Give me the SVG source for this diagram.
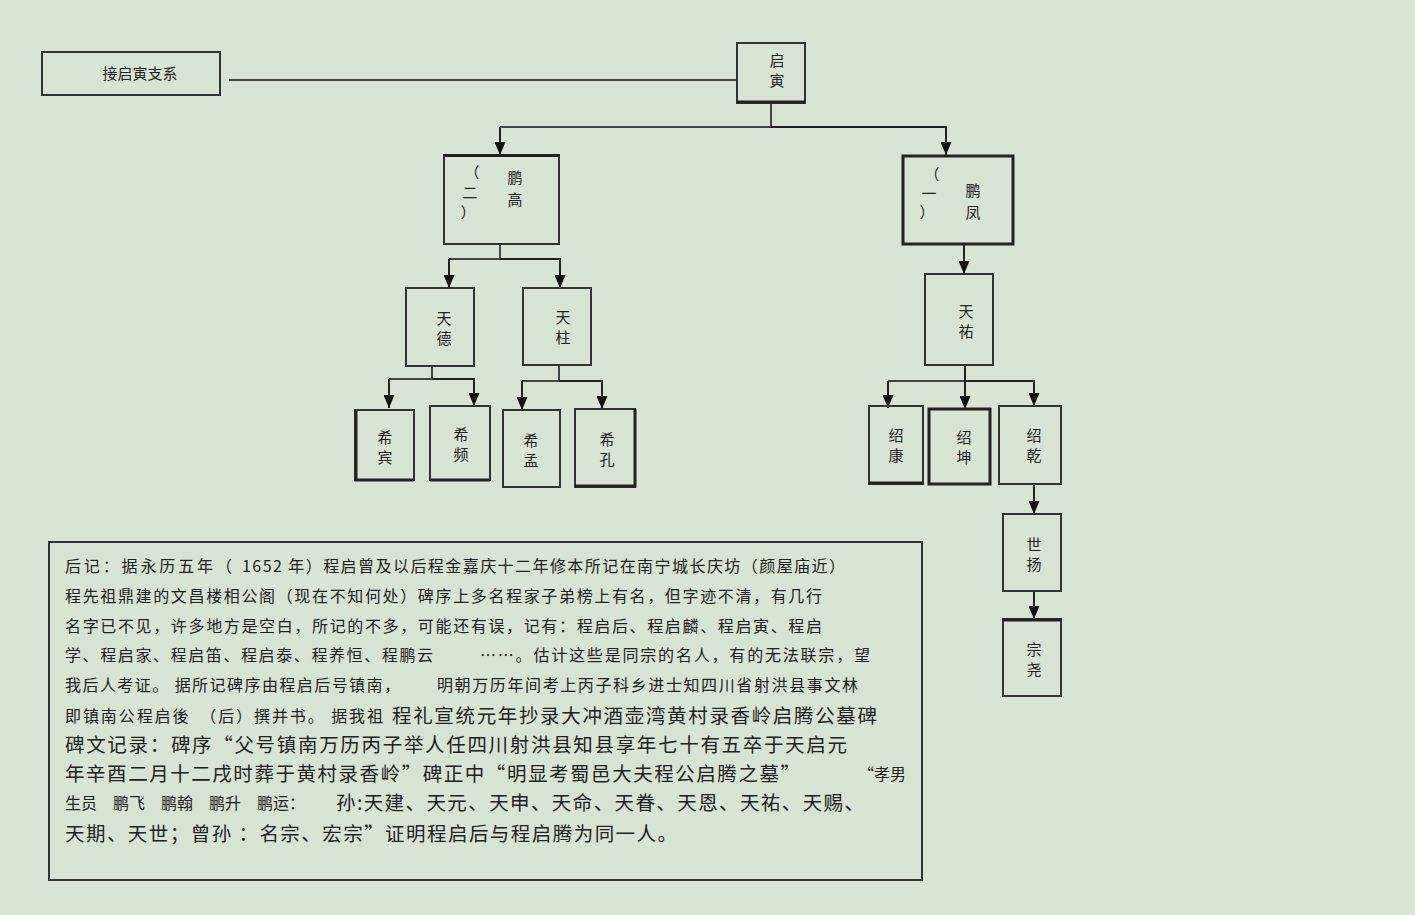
<svg xmlns="http://www.w3.org/2000/svg" width="1415" height="915" viewBox="0 0 1415 915">
<defs>
<marker id="ah" viewBox="0 0 13 11" refX="13" refY="5.5" markerWidth="13" markerHeight="11" markerUnits="userSpaceOnUse" orient="auto">
<path d="M0,0 L13,5.5 L0,11 Z" fill="#111"/>
</marker>
</defs>
<style>
.bx{fill:none;stroke:#333;stroke-width:2}
.bk{fill:none;stroke:#222;stroke-width:3}
.ln{fill:none;stroke:#444;stroke-width:2}
.ar{fill:none;stroke:#222;stroke-width:2;marker-end:url(#ah)}
.t{font-family:"Noto Sans CJK SC","Noto Sans",sans-serif;font-size:15px;fill:#222;text-anchor:middle}
.p{font-family:"Noto Sans CJK SC","Noto Sans",sans-serif;fill:#222}
.s{font-size:16px}
.l{font-size:19.5px}
</style>
<rect width="1415" height="915" fill="#d8e5d4"/>

<g id="connectors">
<path class="ln" d="M229,80 H737"/>
<path class="ln" d="M771,103 V127 H500"/>
<path class="ar" d="M500,127 V155"/>
<path class="ar" d="M771,127 H946 V155"/>
<path class="ln" d="M500,244 V259 H449"/>
<path class="ar" d="M449,259 V288"/>
<path class="ar" d="M500,259 H560 V288"/>
<path class="ar" d="M964,244 V274"/>
<path class="ln" d="M432,366 V379 H389"/>
<path class="ar" d="M389,379 V408"/>
<path class="ar" d="M432,379 H474 V406"/>
<path class="ln" d="M559,365 V381 H522"/>
<path class="ar" d="M522,381 V410"/>
<path class="ar" d="M559,381 H602 V409"/>
<path class="ln" d="M965,365 V381 H888"/>
<path class="ar" d="M888,381 V408"/>
<path class="ar" d="M965,365 V409"/>
<path class="ar" d="M965,381 H1034 V406"/>
<path class="ar" d="M1034,484 V514"/>
<path class="ar" d="M1034,591 V619"/>
</g>

<g id="n-jie"><rect class="bx" x="42" y="52" width="178" height="43"/><text class="t" x="140" y="79" font-size="17">接启寅支系</text></g>
<g id="n-qiyin"><rect class="bx" x="737" y="43" width="68" height="60"/><path class="bk" d="M737,102 H805"/><text class="t" x="777" y="66">启</text><text class="t" x="777" y="86">寅</text></g>
<g id="n-penggao"><rect class="bx" x="444" y="155" width="115" height="89"/><path class="bk" d="M444,155.5 H559"/><text class="t" x="515" y="183" font-size="16">鹏</text><text class="t" x="515" y="205" font-size="16">高</text><text class="t" x="472" y="178">（</text><text class="t" x="470" y="198">二</text><text class="t" x="468" y="218">）</text></g>
<g id="n-pengfeng"><rect class="bk" x="903" y="156" width="110" height="88"/><text class="t" x="973" y="196" font-size="16">鹏</text><text class="t" x="973" y="218" font-size="16">凤</text><text class="t" x="932" y="180">（</text><text class="t" x="929" y="199">一</text><text class="t" x="927" y="218">）</text></g>
<g id="n-tiande"><rect class="bx" x="406" y="288" width="68" height="78"/><text class="t" x="444" y="324">天</text><text class="t" x="444" y="344">德</text></g>
<g id="n-tianzhu"><rect class="bx" x="523" y="288" width="68" height="77"/><text class="t" x="563" y="323">天</text><text class="t" x="563" y="343">柱</text></g>
<g id="n-xibin"><rect class="bx" x="355" y="410" width="59" height="70"/><path class="bk" d="M356,410 V480 H414"/><text class="t" x="385" y="443">希</text><text class="t" x="385" y="463">宾</text></g>
<g id="n-xipin"><rect class="bx" x="430" y="406" width="60" height="74"/><path class="bk" d="M430,480 H490"/><text class="t" x="461" y="440">希</text><text class="t" x="461" y="460">频</text></g>
<g id="n-ximeng"><rect class="bx" x="503" y="410" width="57" height="77"/><text class="t" x="531" y="446">希</text><text class="t" x="531" y="466">孟</text></g>
<g id="n-xikong"><rect class="bx" x="575" y="409" width="60" height="78"/><path class="bk" d="M575,486 H635 V409"/><text class="t" x="607" y="445">希</text><text class="t" x="607" y="465">孔</text></g>
<g id="n-tianyou"><rect class="bx" x="925" y="274" width="68" height="91"/><text class="t" x="966" y="317">天</text><text class="t" x="966" y="337">祐</text></g>
<g id="n-shaokang"><rect class="bx" x="869" y="406" width="54" height="78"/><path class="bk" d="M869,483 H923"/><text class="t" x="896" y="441">绍</text><text class="t" x="896" y="461">康</text></g>
<g id="n-shaokun"><rect class="bk" x="929" y="409" width="61" height="75"/><text class="t" x="964" y="443">绍</text><text class="t" x="964" y="463">坤</text></g>
<g id="n-shaoqian"><rect class="bx" x="999" y="406" width="62" height="78"/><text class="t" x="1034" y="441">绍</text><text class="t" x="1034" y="461">乾</text></g>
<g id="n-shiyang"><rect class="bx" x="1003" y="514" width="58" height="77"/><text class="t" x="1034" y="550">世</text><text class="t" x="1034" y="570">扬</text></g>
<g id="n-zongyao"><rect class="bx" x="1003" y="619" width="58" height="77"/><path class="bk" d="M1003,620 H1061"/><text class="t" x="1034" y="655">宗</text><text class="t" x="1034" y="675">尧</text></g>

<g id="note">
<rect class="bx" x="49" y="542" width="873" height="338"/>
<text class="p s" x="65" y="572" textLength="167" lengthAdjust="spacing">后记：据永历五年（</text>
<text class="p s" x="242" y="572" textLength="603" lengthAdjust="spacing">1652 年）程启曾及以后程金嘉庆十二年修本所记在南宁城长庆坊（颜屋庙近）</text>
<text class="p s" x="65" y="602" textLength="757" lengthAdjust="spacing">程先祖鼎建的文昌楼相公阁（现在不知何处）碑序上多名程家子弟榜上有名，但字迹不清，有几行</text>
<text class="p s" x="65" y="632" textLength="757" lengthAdjust="spacing">名字已不见，许多地方是空白，所记的不多，可能还有误，记有：程启后、程启麟、程启寅、程启</text>
<text class="p s" x="65" y="661" textLength="368" lengthAdjust="spacing">学、程启家、程启笛、程启泰、程养恒、程鹏云</text>
<text class="p s" x="480" y="661" textLength="390" lengthAdjust="spacing">……。估计这些是同宗的名人，有的无法联宗，望</text>
<text class="p s" x="65" y="691" textLength="335" lengthAdjust="spacing">我后人考证。 据所记碑序由程启后号镇南，</text>
<text class="p s" x="437" y="691" textLength="421" lengthAdjust="spacing">明朝万历年间考上丙子科乡进士知四川省射洪县事文林</text>
<text class="p s" x="65" y="722" textLength="318" lengthAdjust="spacing">即镇南公程启後　（后）撰并书。 据我祖</text>
<text class="p l" x="392" y="723" textLength="485" lengthAdjust="spacing">程礼宣统元年抄录大冲酒壶湾黄村录香岭启腾公墓碑</text>
<text class="p l" x="65" y="752" textLength="782" lengthAdjust="spacing">碑文记录：碑序“父号镇南万历丙子举人任四川射洪县知县享年七十有五卒于天启元</text>
<text class="p l" x="65" y="781" textLength="735" lengthAdjust="spacing">年辛酉二月十二戌时葬于黄村录香岭”碑正中“明显考蜀邑大夫程公启腾之墓”</text>
<text class="p s" x="858" y="780" textLength="48" lengthAdjust="spacing">“孝男</text>
<text class="p s" x="65" y="809" textLength="240" lengthAdjust="spacing">生员　鹏飞　鹏翰　鹏升　鹏运：</text>
<text class="p l" x="336" y="810" textLength="528" lengthAdjust="spacing">孙:天建、天元、天申、天命、天眷、天恩、天祐、天赐、</text>
<text class="p l" x="65" y="841" textLength="612" lengthAdjust="spacing">天期、天世；曾孙 ：名宗、宏宗”证明程启后与程启腾为同一人。</text>
</g>
</svg>
